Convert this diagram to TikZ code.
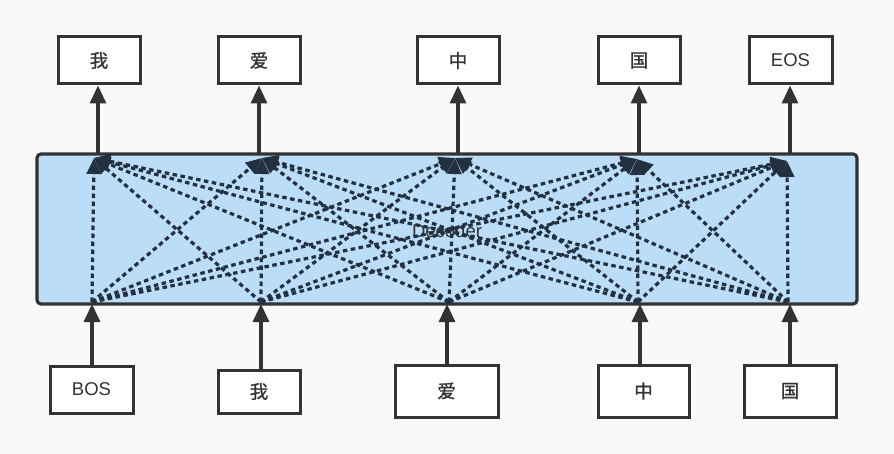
\documentclass[tikz,border=0pt]{standalone}
\usepackage{fontspec}
\setmainfont{Liberation Sans}
\newfontfamily\cjk[FakeBold=1]{Noto Sans CJK SC}
\usetikzlibrary{arrows.meta}
\definecolor{bg}{HTML}{F9F9F9}
\definecolor{ink}{HTML}{333333}
\definecolor{decfill}{HTML}{BBDDF8}
\definecolor{dashink}{HTML}{223040}
\begin{document}
\begin{tikzpicture}[x=1pt,y=-1pt,
  tok/.style={draw=ink, line width=3pt, fill=white, inner sep=0pt, text=ink,
    font=\fontsize{18.5}{20}\selectfont},
  decbox/.style={draw=ink, line width=3.2pt, fill=decfill, rounded corners=4pt,
    minimum width=820pt, minimum height=150pt, inner sep=0pt},
  flow/.style={draw=ink, line width=3.2pt, -{Triangle[length=18pt,width=16pt]}},
  attn/.style={draw=dashink, line width=3.2pt, dash pattern=on 4.5pt off 3.5pt,
    -{Triangle[length=16pt,width=14pt]}}
]
\fill[bg] (0,0) rectangle (894,454);
\useasboundingbox (0,0) rectangle (894,454);

% decoder
\node[decbox] (dec) at (447,229) {};
\node[text=ink, font=\fontsize{18.5}{20}\selectfont] (declab) at (447,231) {Decoder};

% top tokens
\node[tok, minimum width=82pt, minimum height=47pt] (t1) at (99,60.5) {\cjk 我};
\node[tok, minimum width=82pt, minimum height=47pt] (t2) at (259,60.5) {\cjk 爱};
\node[tok, minimum width=82pt, minimum height=47pt] (t3) at (458,60.5) {\cjk 中};
\node[tok, minimum width=82pt, minimum height=47pt] (t4) at (639,60.5) {\cjk 国};
\node[tok, minimum width=83pt, minimum height=47pt] (t5) at (790.5,60.5) {EOS};

% bottom tokens
\node[tok, minimum width=83pt, minimum height=47pt] (b1) at (91.5,389.5) {BOS};
\node[tok, minimum width=82pt, minimum height=43pt] (b2) at (259,391.5) {\cjk 我};
\node[tok, minimum width=103pt, minimum height=52pt] (b3) at (446.5,391) {\cjk 爱};
\node[tok, minimum width=91pt, minimum height=52pt] (b4) at (643.5,391) {\cjk 中};
\node[tok, minimum width=92pt, minimum height=52pt] (b5) at (790,391) {\cjk 国};

% entry points at decoder bottom
\coordinate (s1) at (92,304);
\coordinate (s2) at (261,304);
\coordinate (s3) at (447,304);
\coordinate (s4) at (640,304);
\coordinate (s5) at (790,304);
% exit points at decoder top
\coordinate (u1) at (98,154);
\coordinate (u2) at (259,154);
\coordinate (u3) at (458,154);
\coordinate (u4) at (639,154);
\coordinate (u5) at (790,154);
% attention sources and targets
\coordinate (p1) at (92,302);
\coordinate (p2) at (261,302);
\coordinate (p3) at (449,302);
\coordinate (p4) at (638,302);
\coordinate (p5) at (788,302);
\coordinate (q1) at (94,158);
\coordinate (q2) at (262,158);
\coordinate (q3) at (455,158);
\coordinate (q4) at (637,159);
\coordinate (q5) at (787,161);

\foreach \i in {1,...,5}{
  \foreach \j in {1,...,5}{
    \draw[attn] (p\i) -- (q\j);
  }
}

\foreach \i in {1,...,5}{
  \draw[flow] (b\i.north -| s\i) -- (s\i);
  \draw[flow] (u\i) -- (u\i |- t\i.south);
}
\end{tikzpicture}
\end{document}
